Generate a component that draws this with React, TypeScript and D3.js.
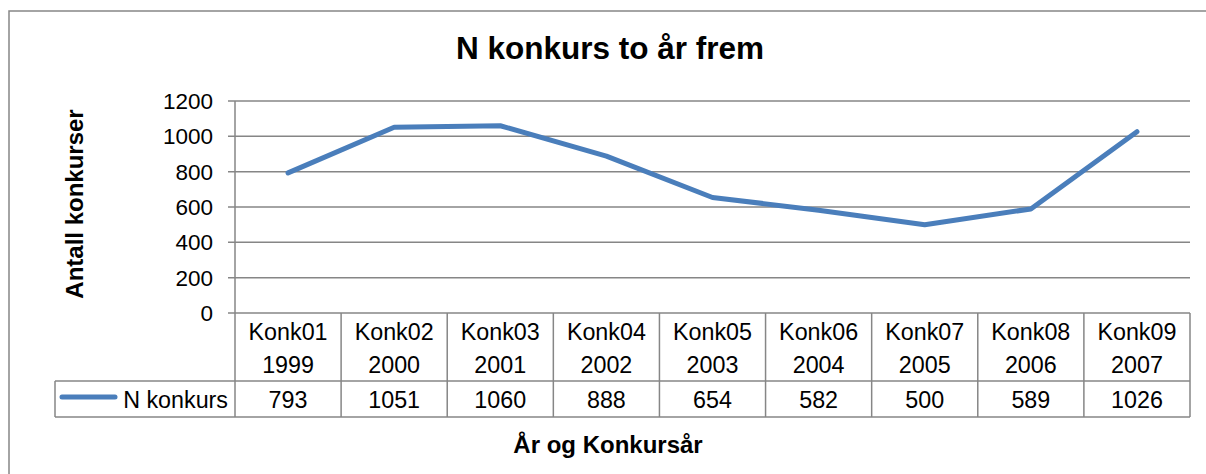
import React from 'react';
import * as d3 from 'd3';

const codes = ['Konk01', 'Konk02', 'Konk03', 'Konk04', 'Konk05', 'Konk06', 'Konk07', 'Konk08', 'Konk09'];
const years = ['1999', '2000', '2001', '2002', '2003', '2004', '2005', '2006', '2007'];
const values = [793, 1051, 1060, 888, 654, 582, 500, 589, 1026];
const yTicks = [0, 200, 400, 600, 800, 1000, 1200];
const seriesName = 'N konkurs';

const FONT = '"Liberation Sans", Arial, sans-serif';
const GRID = '#868686';
const BLUE = '#4a7ebb';

const App = () => {
  const left = 235;
  const right = 1190;
  const top = 101;
  const bottom = 313;
  const row1 = 381;
  const row2 = 417;
  const legendLeft = 55;

  const x = d3.scaleBand().domain(codes).range([left, right]);
  const y = d3.scaleLinear().domain([0, 1200]).range([bottom, top]);

  const line = d3
    .line<number>()
    .x((_, i) => (x(codes[i]) as number) + x.bandwidth() / 2)
    .y((d) => y(d));

  return (
    <svg
      width={1206}
      height={474}
      style={{ position: 'absolute', left: 0, top: 0, background: '#fff' }}
      fontFamily={FONT}
    >
      <rect x={9} y={11} width={1210} height={480} fill="#fff" stroke={GRID} strokeWidth={1.5} />

      <text x={610} y={59} textAnchor="middle" fontSize={31.5} fontWeight="bold">
        N konkurs to år frem
      </text>

      {/* gridlines + ticks */}
      {yTicks.map((t) => (
        <g key={t}>
          <line x1={228} x2={right} y1={y(t)} y2={y(t)} stroke={GRID} strokeWidth={1.5} />
          <text x={213} y={y(t) + 8} textAnchor="end" fontSize={22.5}>
            {t}
          </text>
        </g>
      ))}
      <line x1={left} x2={left} y1={top} y2={row2} stroke={GRID} strokeWidth={1.5} />

      {/* data table */}
      {codes.map((c, i) => {
        const x0 = x(c) as number;
        const cx = x0 + x.bandwidth() / 2;
        return (
          <g key={c}>
            <line x1={x0 + x.bandwidth()} x2={x0 + x.bandwidth()} y1={bottom} y2={row2} stroke={GRID} strokeWidth={1.5} />
            <text x={cx} y={339.5} textAnchor="middle" fontSize={23.3}>
              {c}
            </text>
            <text x={cx} y={372.5} textAnchor="middle" fontSize={23.3}>
              {years[i]}
            </text>
            <text x={cx} y={407.5} textAnchor="middle" fontSize={23.3}>
              {values[i]}
            </text>
          </g>
        );
      })}
      <line x1={legendLeft} x2={right} y1={row1} y2={row1} stroke={GRID} strokeWidth={1.5} />
      <line x1={legendLeft} x2={right} y1={row2} y2={row2} stroke={GRID} strokeWidth={1.5} />
      <line x1={legendLeft} x2={legendLeft} y1={row1} y2={row2} stroke={GRID} strokeWidth={1.5} />

      <line x1={62} x2={115} y1={397} y2={397} stroke={BLUE} strokeWidth={5} strokeLinecap="round" />
      <text x={228} y={407.5} textAnchor="end" fontSize={23.3}>
        {seriesName}
      </text>

      <path d={line(values) || ''} fill="none" stroke={BLUE} strokeWidth={5} strokeLinecap="round" strokeLinejoin="round" />

      <text
        transform={`translate(83,204) rotate(-90)`}
        textAnchor="middle"
        fontSize={24}
        fontWeight="bold"
      >
        Antall konkurser
      </text>
      <text x={608} y={453} textAnchor="middle" fontSize={24} fontWeight="bold">
        År og Konkursår
      </text>
    </svg>
  );
};

export default App;
